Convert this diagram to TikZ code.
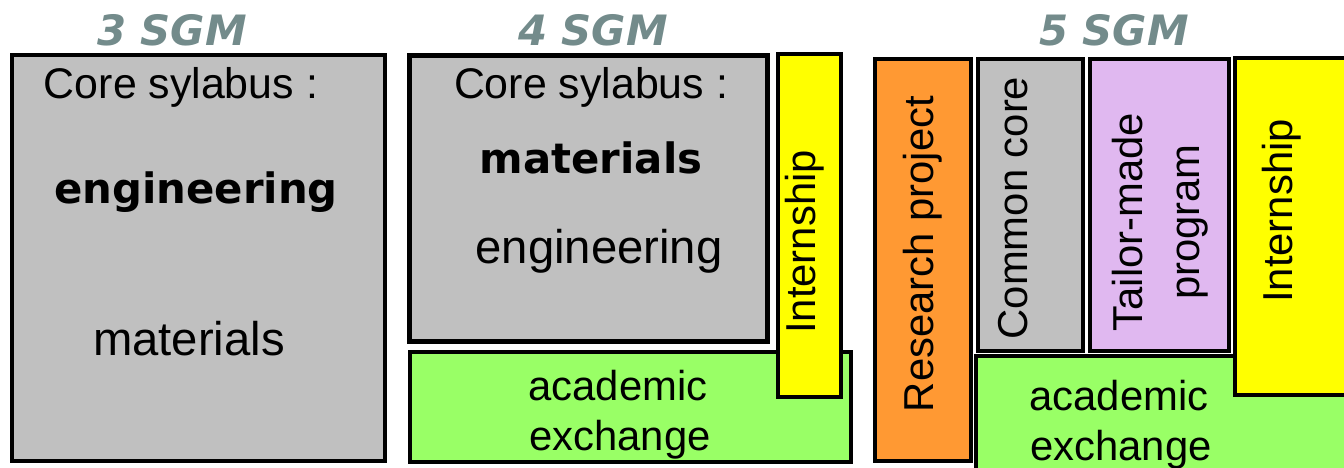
\documentclass[tikz,border=0pt]{standalone}
\usepackage{fontspec}
\setmainfont{Liberation Sans}
\newfontfamily\heavyfont{DejaVu Sans}
\usepackage{xcolor}

\definecolor{sgmgray}{HTML}{C0C0C0}
\definecolor{sgmgreen}{HTML}{99FF66}
\definecolor{sgmyellow}{HTML}{FFFF00}
\definecolor{sgmorange}{HTML}{FF9933}
\definecolor{sgmlilac}{HTML}{E0B8F0}
\definecolor{sgmtitle}{HTML}{738B8B}

\tikzset{
  block/.style={draw=black, line width=2.5pt},
  yeartitle/.style={text=sgmtitle, inner sep=0pt, anchor=base,
    font=\heavyfont\bfseries\itshape\fontsize{23.8}{28}\selectfont},
  headline/.style={inner sep=0pt, anchor=base, font=\fontsize{24.4}{28}\selectfont},
  bigword/.style={inner sep=0pt, anchor=base, font=\fontsize{26.9}{30}\selectfont},
  boldword/.style={inner sep=0pt, anchor=base, font=\heavyfont\bfseries\fontsize{23.8}{28}\selectfont},
  sideword/.style={inner sep=0pt, rotate=90, align=center, font=\fontsize{23.8}{32.3}\selectfont},
  lineword/.style={inner sep=0pt, anchor=base, font=\fontsize{23.8}{28}\selectfont}
}

\begin{document}
\begin{tikzpicture}[x=0.02cm, y=-0.02cm]
\useasboundingbox (0,0) rectangle (1344,467);
% draw year titles
\draw (172,45) node[yeartitle] (t3) {3 SGM};
\draw (593,45) node[yeartitle] (t4) {4 SGM};
\draw (1114,45) node[yeartitle] (t5) {5 SGM};
% draw 3 SGM
\filldraw[block, fill=sgmgray] (12,55) rectangle (385,461);
\draw (181,98) node[headline] (core3) {Core sylabus :};
\draw (196,203) node[boldword] (eng3) {engineering};
\draw (189,355) node[bigword] (mat3) {materials};
% draw 4 SGM
\filldraw[block, fill=sgmgray] (409.5,55.5) rectangle (767.5,341.5);
\draw (591,98) node[headline] (core4) {Core sylabus :};
\draw (591,173) node[boldword] (mat4) {materials};
\draw (599,263) node[bigword] (eng4) {engineering};
\filldraw[block, fill=sgmgreen] (410,352) rectangle (851,462);
\draw (618,400) node[lineword] (acad4) {academic};
\draw (620,450) node[lineword] (exch4) {exchange};
\filldraw[block, fill=sgmyellow] (778,54) rectangle (841,397);
\draw (805,242) node[sideword] (intern4) {Internship};
% draw 5 SGM
\filldraw[block, fill=sgmorange] (875,59) rectangle (971,461);
\draw (923,254) node[sideword] (research5) {Research project};
\filldraw[block, fill=sgmgray] (978,59) rectangle (1083,351);
\draw (1013,208) node[sideword] (common5) {Common core};
\filldraw[block, fill=sgmlilac] (1090,59) rectangle (1229,351);
\draw (1160,222) node[sideword] (tailor5) {Tailor-made\\program};
\filldraw[block, fill=sgmgreen] (976,356) rectangle (1360,480);
\draw (1119,410) node[lineword] (acad5) {academic};
\draw (1121,460) node[lineword] (exch5) {exchange};
\filldraw[block, fill=sgmyellow] (1235,58) rectangle (1360,395);
\draw (1282,211) node[sideword] (intern5) {Internship};
\end{tikzpicture}
\end{document}
